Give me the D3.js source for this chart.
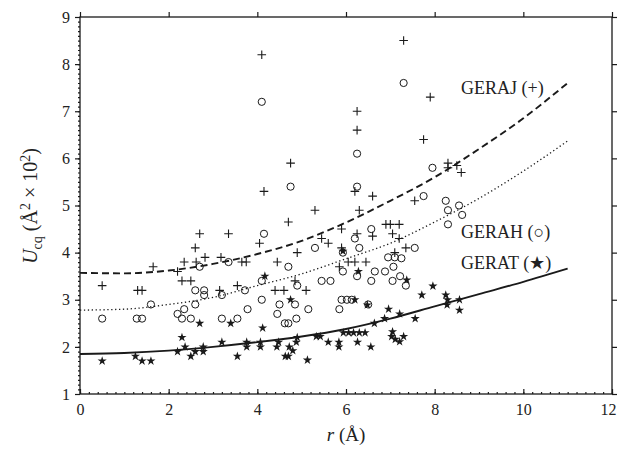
<!DOCTYPE html>
<html><head><meta charset="utf-8">
<script src="https://cdn.jsdelivr.net/npm/d3@7"></script>
<style>body{margin:0;background:#fff}svg{display:block}svg text{font-family:"Liberation Serif" !important}</style>
</head><body>
<svg id="c" width="618" height="452"></svg>
<script>
// ---- data ----
const xTicks = [0, 2, 4, 6, 8, 10, 12];
const yTicks = [1, 2, 3, 4, 5, 6, 7, 8, 9];

// GERAJ (+) points [r, U]
const gerajX = [0.5,1.3,1.4,1.65,2.2,2.35,2.3,2.5,2.6,2.7,2.62,2.82,3.35,3.18,3.15,3.55,3.65,3.75,4.05,4.45,4.9,4.7,4.4,4.6,4.85,5.1,4.1,4.75,4.15,5.3,5.45,5.6,5.9,5.9,5.85,6.05,6.2,6.45,6.25,6.6,6.9,7.0,7.2,7.05,7.2,7.1,7.35,6.25,6.25,6.2,6.6,6.3,7.3,7.9,7.75,7.55,8.3,8.3,8.5,8.6];
const gerajY = [3.3,3.2,3.2,3.7,3.6,3.8,3.4,3.4,4.1,4.4,3.8,3.9,4.4,3.9,3.2,3.3,3.8,3.8,4.2,3.8,4.0,4.65,3.2,3.2,3.4,3.2,8.2,5.9,5.3,4.9,4.3,4.2,4.5,4.1,3.7,3.8,3.8,3.8,4.4,4.35,4.6,4.6,4.6,4.4,4.3,4.0,4.1,7.0,6.6,5.3,5.2,4.9,8.5,7.3,6.4,5.1,5.9,5.8,5.85,5.7];

// GERAH (o) points
const gerahX = [0.5,1.28,1.4,1.6,2.2,2.35,2.3,2.5,2.6,2.6,2.8,2.8,2.7,3.2,3.2,3.55,3.35,3.72,3.78,4.1,4.1,4.15,4.7,4.45,4.5,4.62,4.7,4.85,4.88,4.9,5.15,4.1,4.75,5.45,5.65,5.3,5.85,5.9,6.02,6.13,6.5,5.93,5.93,6.2,6.3,6.25,6.57,6.57,6.65,6.88,6.95,7.1,7.25,7.07,7.05,7.22,7.35,7.55,8.3,6.25,6.25,7.3,7.95,7.75,8.25,8.3,8.55,8.62];
const gerahY = [2.6,2.6,2.6,2.9,2.7,2.8,2.6,2.6,2.9,3.2,3.2,3.1,3.7,3.1,2.6,2.6,3.8,3.2,2.8,3.0,3.4,4.4,3.7,2.7,2.9,2.5,2.5,2.9,2.6,3.3,2.8,7.2,5.4,3.4,3.4,4.1,2.8,3.0,3.0,3.0,2.9,4.0,3.6,4.3,4.1,3.5,4.5,3.4,3.6,3.6,3.9,3.9,3.88,3.7,3.4,3.5,3.3,4.1,4.6,6.1,5.4,7.6,5.8,5.2,5.1,4.9,5.0,4.8];

// GERAT (*) points
const geratX = [0.5,1.25,1.4,1.6,2.2,2.3,2.37,2.5,2.6,2.7,2.78,2.78,3.2,3.4,3.55,3.76,3.76,4.07,4.07,4.12,4.17,4.48,4.44,4.63,4.7,4.72,4.75,4.8,4.88,4.9,5.13,5.33,5.42,5.6,5.84,5.84,5.94,6.06,6.17,6.3,6.43,6.26,6.56,6.64,6.87,6.96,7.05,7.03,7.11,7.21,7.3,7.21,7.37,7.56,7.71,7.96,8.25,8.29,8.28,8.56,8.56,5.93,6.28,6.2,6.48];
const geratY = [1.7,1.8,1.7,1.7,1.9,2.2,2.0,1.8,1.9,2.5,2.0,1.9,2.1,2.5,1.8,2.1,2.0,2.1,2.0,2.4,3.5,2.1,2.0,1.8,1.8,2.0,3.0,1.92,2.1,2.2,1.72,2.22,2.22,2.1,2.1,2.0,2.3,2.3,2.3,2.3,2.3,2.1,2.0,2.5,2.6,2.8,2.32,2.22,2.16,2.11,2.22,2.7,3.42,2.6,3.1,3.29,3.1,3.0,2.89,3.0,2.78,4.03,3.6,3.0,2.89];

// fitted curves
const curveX  = [0, 1, 2, 3, 4, 5, 6, 7, 8, 9, 10, 11];
const gerajFit = [3.57, 3.56, 3.62, 3.76, 3.97, 4.25, 4.64, 5.1, 5.6, 6.2, 6.85, 7.6];
const gerahFit = [2.78, 2.8, 2.9, 3.05, 3.3, 3.55, 3.87, 4.2, 4.65, 5.15, 5.73, 6.37];
const geratFit = [1.85, 1.87, 1.92, 2.0, 2.1, 2.22, 2.38, 2.6, 2.86, 3.12, 3.38, 3.66];

const labels = ["GERAJ (+)", "GERAH (\u25CB)", "GERAT (\u2605)"];

// ---- drawing ----
const FONT = '"Liberation Serif"';
const svg = d3.select("#c");
const L = 80, R = 612, T = 17, B = 394;
const x = d3.scaleLinear().domain([0, 12]).range([L, R]);
const y = d3.scaleLinear().domain([1, 9]).range([B, T]);

const ink = "#1a1a1a";
const g = svg.append("g");

function txt(sel, size) {
  return sel.attr("font-family", "Liberation Serif").style("font-family", FONT)
    .attr("font-size", size).style("font-size", size + "px").attr("fill", "#222");
}

// frame
g.append("rect").attr("x", L).attr("y", T).attr("width", R - L).attr("height", B - T)
  .attr("fill", "none").attr("stroke", ink).attr("stroke-width", 1.3);

function styleAxis(sel) {
  sel.attr("font-family", "Liberation Serif").attr("font-size", 16);
  sel.select(".domain").remove();
  sel.selectAll("line").attr("stroke", ink).attr("stroke-width", 1.2);
  txt(sel.selectAll("text"), 16);
}
// bottom
const bx = g.append("g").attr("transform", `translate(0,${B})`)
  .call(d3.axisBottom(x).tickValues(xTicks).tickSize(-5).tickPadding(10).tickFormat(d3.format("d")))
  .call(styleAxis);
// keep the last label ("12") inside the picture
bx.selectAll(".tick text").filter(d => d === 12).attr("text-anchor", "end").attr("dx", 4);
g.append("g").attr("transform", `translate(0,${B})`)
  .call(d3.axisBottom(x).tickValues(d3.range(0, 12.01, 0.2)).tickSize(-2).tickFormat(""))
  .call(styleAxis);
// top
g.append("g").attr("transform", `translate(0,${T})`)
  .call(d3.axisTop(x).tickValues(xTicks).tickSize(5).tickFormat(""))
  .call(styleAxis);
// left
g.append("g").attr("transform", `translate(${L},0)`)
  .call(d3.axisLeft(y).tickValues(yTicks).tickSize(5).tickPadding(5).tickFormat(d3.format("d")))
  .call(styleAxis);
g.append("g").attr("transform", `translate(${L},0)`)
  .call(d3.axisLeft(y).tickValues(d3.range(1, 9.001, 0.1)).tickSize(2).tickFormat(""))
  .call(styleAxis);
// right
g.append("g").attr("transform", `translate(${R},0)`)
  .call(d3.axisRight(y).tickValues(yTicks).tickSize(5).tickFormat(""))
  .call(styleAxis);

// curves
const line = d3.line().x((d, i) => x(curveX[i])).y(d => y(d)).curve(d3.curveMonotoneX);
g.append("path").attr("d", line(gerajFit)).attr("fill", "none").attr("stroke", ink)
  .attr("stroke-width", 1.9).attr("stroke-dasharray", "7,4");
g.append("path").attr("d", line(gerahFit)).attr("fill", "none").attr("stroke", ink)
  .attr("stroke-width", 1.3).attr("stroke-dasharray", "1.3,2.6");
g.append("path").attr("d", line(geratFit)).attr("fill", "none").attr("stroke", ink)
  .attr("stroke-width", 1.9);

// markers
g.append("g").selectAll("path").data(gerajX).join("path")
  .attr("transform", (d, i) => `translate(${x(d)},${y(gerajY[i])})`)
  .attr("d", "M-4.3,0H4.3M0,-4.3V4.3").attr("stroke", ink).attr("stroke-width", 1.1).attr("fill", "none");
g.append("g").selectAll("circle").data(gerahX).join("circle")
  .attr("cx", d => x(d)).attr("cy", (d, i) => y(gerahY[i])).attr("r", 3.6)
  .attr("fill", "none").attr("stroke", ink).attr("stroke-width", 1);
const star = d3.symbol().type(d3.symbolStar).size(26);
g.append("g").selectAll("path").data(geratX).join("path")
  .attr("transform", (d, i) => `translate(${x(d)},${y(geratY[i])})`)
  .attr("d", star).attr("fill", ink);

// series labels
[[461, 94], [461, 238], [461, 269]].forEach((p, i) => {
  txt(g.append("text").attr("x", p[0]).attr("y", p[1]), 18).text(labels[i]);
});

// axis titles
const xt = txt(g.append("text").attr("x", 346).attr("y", 441).attr("text-anchor", "middle"), 19);
xt.append("tspan").style("font-style", "italic").text("r");
xt.append("tspan").text(" (\u00C5)");

const yt = txt(g.append("text").attr("transform", "translate(37,206) rotate(-90)")
  .attr("text-anchor", "middle"), 20);
yt.append("tspan").style("font-style", "italic").text("U");
yt.append("tspan").attr("dy", 5).style("font-size", "14px").text("cq");
yt.append("tspan").attr("dy", -5).text(" (\u00C5");
yt.append("tspan").attr("dy", -7).style("font-size", "14px").text("2");
yt.append("tspan").attr("dy", 7).text(" \u00D7 10");
yt.append("tspan").attr("dy", -7).style("font-size", "14px").text("2");
yt.append("tspan").attr("dy", 7).text(")");
</script>
</body></html>
